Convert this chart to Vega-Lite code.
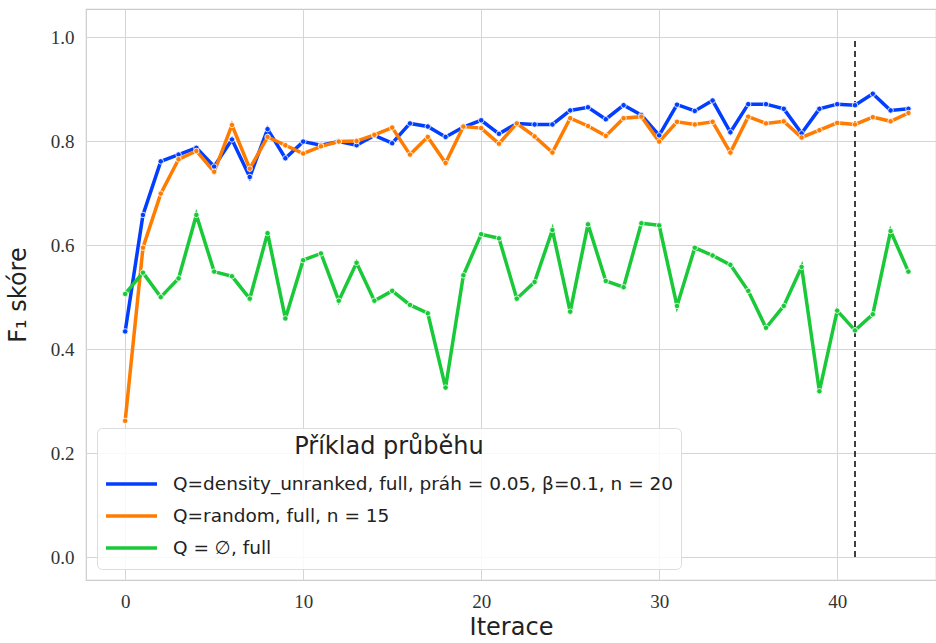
{
  "$schema": "https://vega.github.io/schema/vega-lite/v6.json",
  "width": 850,
  "height": 571,
  "autosize": "none",
  "padding": {"left": 86, "top": 9, "right": 0, "bottom": 63},
  "background": "white",
  "config": {
    "view": {"stroke": "#cccccc", "strokeWidth": 1.2},
    "axis": {"gridColor": "#d5d5d5", "gridWidth": 1, "domain": false, "ticks": false, "labelFont": "Liberation Serif", "labelFontSize": 19, "labelColor": "#333333", "titleFont": "DejaVu Sans", "titleFontWeight": "normal", "titleFontSize": 24, "titleColor": "#222222"}
  },
  "datasets": {
    "runs": [
      {"i":0,"s":"A","f":0.434},{"i":1,"s":"A","f":0.658},{"i":2,"s":"A","f":0.761},{"i":3,"s":"A","f":0.774},{"i":4,"s":"A","f":0.787},{"i":5,"s":"A","f":0.751},{"i":6,"s":"A","f":0.803},{"i":7,"s":"A","f":0.731},{"i":8,"s":"A","f":0.823},{"i":9,"s":"A","f":0.767},{"i":10,"s":"A","f":0.799},{"i":11,"s":"A","f":0.792},{"i":12,"s":"A","f":0.799},{"i":13,"s":"A","f":0.792},{"i":14,"s":"A","f":0.811},{"i":15,"s":"A","f":0.796},{"i":16,"s":"A","f":0.834},{"i":17,"s":"A","f":0.828},{"i":18,"s":"A","f":0.808},{"i":19,"s":"A","f":0.827},{"i":20,"s":"A","f":0.840},{"i":21,"s":"A","f":0.814},{"i":22,"s":"A","f":0.834},{"i":23,"s":"A","f":0.832},{"i":24,"s":"A","f":0.832},{"i":25,"s":"A","f":0.859},{"i":26,"s":"A","f":0.865},{"i":27,"s":"A","f":0.842},{"i":28,"s":"A","f":0.869},{"i":29,"s":"A","f":0.850},{"i":30,"s":"A","f":0.811},{"i":31,"s":"A","f":0.870},{"i":32,"s":"A","f":0.858},{"i":33,"s":"A","f":0.878},{"i":34,"s":"A","f":0.817},{"i":35,"s":"A","f":0.871},{"i":36,"s":"A","f":0.871},{"i":37,"s":"A","f":0.862},{"i":38,"s":"A","f":0.815},{"i":39,"s":"A","f":0.862},{"i":40,"s":"A","f":0.871},{"i":41,"s":"A","f":0.869},{"i":42,"s":"A","f":0.891},{"i":43,"s":"A","f":0.859},{"i":44,"s":"A","f":0.862},
      {"i":0,"s":"B","f":0.262},{"i":1,"s":"B","f":0.595},{"i":2,"s":"B","f":0.699},{"i":3,"s":"B","f":0.765},{"i":4,"s":"B","f":0.781},{"i":5,"s":"B","f":0.741},{"i":6,"s":"B","f":0.831},{"i":7,"s":"B","f":0.747},{"i":8,"s":"B","f":0.808},{"i":9,"s":"B","f":0.792},{"i":10,"s":"B","f":0.776},{"i":11,"s":"B","f":0.790},{"i":12,"s":"B","f":0.799},{"i":13,"s":"B","f":0.800},{"i":14,"s":"B","f":0.812},{"i":15,"s":"B","f":0.826},{"i":16,"s":"B","f":0.774},{"i":17,"s":"B","f":0.808},{"i":18,"s":"B","f":0.758},{"i":19,"s":"B","f":0.828},{"i":20,"s":"B","f":0.825},{"i":21,"s":"B","f":0.795},{"i":22,"s":"B","f":0.834},{"i":23,"s":"B","f":0.809},{"i":24,"s":"B","f":0.778},{"i":25,"s":"B","f":0.844},{"i":26,"s":"B","f":0.829},{"i":27,"s":"B","f":0.810},{"i":28,"s":"B","f":0.844},{"i":29,"s":"B","f":0.847},{"i":30,"s":"B","f":0.799},{"i":31,"s":"B","f":0.837},{"i":32,"s":"B","f":0.832},{"i":33,"s":"B","f":0.837},{"i":34,"s":"B","f":0.778},{"i":35,"s":"B","f":0.847},{"i":36,"s":"B","f":0.834},{"i":37,"s":"B","f":0.838},{"i":38,"s":"B","f":0.807},{"i":39,"s":"B","f":0.821},{"i":40,"s":"B","f":0.835},{"i":41,"s":"B","f":0.832},{"i":42,"s":"B","f":0.846},{"i":43,"s":"B","f":0.838},{"i":44,"s":"B","f":0.854},
      {"i":0,"s":"C","f":0.506},{"i":1,"s":"C","f":0.547},{"i":2,"s":"C","f":0.500},{"i":3,"s":"C","f":0.536},{"i":4,"s":"C","f":0.658},{"i":5,"s":"C","f":0.549},{"i":6,"s":"C","f":0.540},{"i":7,"s":"C","f":0.497},{"i":8,"s":"C","f":0.623},{"i":9,"s":"C","f":0.459},{"i":10,"s":"C","f":0.571},{"i":11,"s":"C","f":0.584},{"i":12,"s":"C","f":0.493},{"i":13,"s":"C","f":0.566},{"i":14,"s":"C","f":0.493},{"i":15,"s":"C","f":0.512},{"i":16,"s":"C","f":0.485},{"i":17,"s":"C","f":0.469},{"i":18,"s":"C","f":0.326},{"i":19,"s":"C","f":0.542},{"i":20,"s":"C","f":0.621},{"i":21,"s":"C","f":0.613},{"i":22,"s":"C","f":0.497},{"i":23,"s":"C","f":0.529},{"i":24,"s":"C","f":0.629},{"i":25,"s":"C","f":0.472},{"i":26,"s":"C","f":0.640},{"i":27,"s":"C","f":0.531},{"i":28,"s":"C","f":0.519},{"i":29,"s":"C","f":0.642},{"i":30,"s":"C","f":0.638},{"i":31,"s":"C","f":0.483},{"i":32,"s":"C","f":0.595},{"i":33,"s":"C","f":0.580},{"i":34,"s":"C","f":0.562},{"i":35,"s":"C","f":0.512},{"i":36,"s":"C","f":0.441},{"i":37,"s":"C","f":0.483},{"i":38,"s":"C","f":0.558},{"i":39,"s":"C","f":0.319},{"i":40,"s":"C","f":0.474},{"i":41,"s":"C","f":0.436},{"i":42,"s":"C","f":0.467},{"i":43,"s":"C","f":0.627},{"i":44,"s":"C","f":0.549}
    ],
    "marker": [{"i": 41, "y0": 0, "y1": 1}]
  },
  "layer": [
    {
      "data": {"name": "marker"},
      "mark": {"type": "rule", "color": "#111111", "strokeWidth": 1.6, "strokeDash": [6, 4]},
      "encoding": {
        "x": {"field": "i", "type": "quantitative", "scale": {"domain": [-2.2, 45.55], "nice": false, "zero": false}},
        "y": {"field": "y0", "type": "quantitative"},
        "y2": {"field": "y1"}
      }
    },
    {
      "data": {"name": "runs"},
      "layer": [
        {
          "mark": {"type": "line", "strokeWidth": 3.5},
          "encoding": {
            "color": {
              "field": "s", "type": "nominal",
              "scale": {"domain": ["A", "B", "C"], "range": ["#023eff", "#ff7c00", "#1ac938"]},
              "legend": {
                "title": "Příklad průběhu",
                "orient": "bottom-left", "offset": 11,
                "labelExpr": "datum.value == 'A' ? 'Q=density_unranked, full, práh = 0.05, β=0.1, n = 20' : datum.value == 'B' ? 'Q=random, full, n = 15' : 'Q = ∅, full'",
                "symbolType": "stroke", "symbolStrokeWidth": 3.5, "symbolSize": 2600, "symbolOffset": 0,
                "titleFont": "DejaVu Sans", "titleFontWeight": "normal", "titleFontSize": 24, "titleColor": "#222222", "titleAnchor": "middle", "titleLimit": 700, "titlePadding": 11,
                "labelFont": "DejaVu Sans", "labelFontSize": 18.5, "labelColor": "#222222", "labelLimit": 700, "labelOffset": 14,
                "clipHeight": 28, "rowPadding": 4, "padding": 7,
                "fillColor": "rgba(255,255,255,0.85)", "strokeColor": "#dddddd", "cornerRadius": 5
              }
            }
          }
        },
        {
          "mark": {"type": "point", "filled": true, "size": 30, "stroke": "white", "strokeWidth": 0.8, "opacity": 1},
          "encoding": {"color": {"field": "s", "type": "nominal", "legend": null}}
        }
      ],
      "encoding": {
        "x": {"field": "i", "type": "quantitative", "title": "Iterace", "axis": {"values": [0, 10, 20, 30, 40], "labelPadding": 12, "titleY": 35}},
        "y": {"field": "f", "type": "quantitative", "title": "F₁ skóre", "scale": {"domain": [-0.044, 1.054], "nice": false, "zero": false}, "axis": {"values": [0, 0.2, 0.4, 0.6, 0.8, 1.0], "format": ".1f", "labelPadding": 12, "titleX": -56}}
      }
    }
  ]
}
